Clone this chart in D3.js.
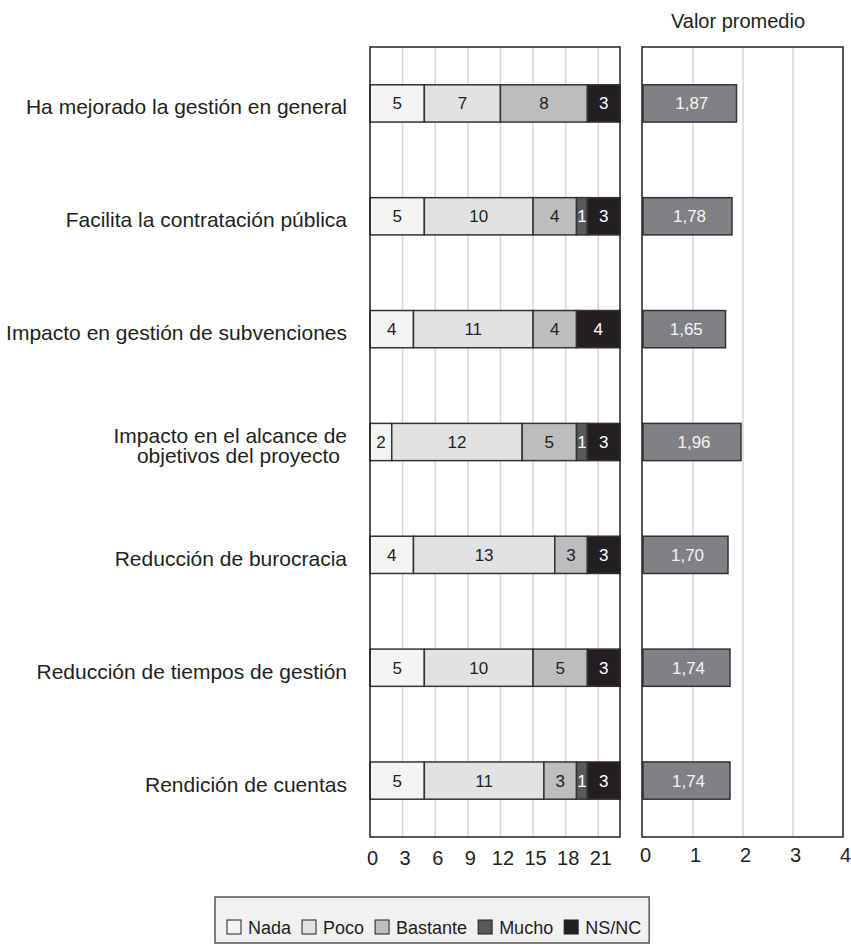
<!DOCTYPE html>
<html>
<head>
<meta charset="utf-8">
<script src="https://cdn.jsdelivr.net/npm/d3@7"></script>
<style>
  html, body { margin: 0; padding: 0; background: #ffffff; }
  svg { display: block; font-family: "Liberation Sans", Arial, Helvetica, sans-serif; }
</style>
</head>
<body>
<svg id="chart" width="851" height="947"></svg>
<script>
// Survey items (row labels; "\n" splits a label over two lines)
const categories = [
  "Ha mejorado la gestión en general",
  "Facilita la contratación pública",
  "Impacto en gestión de subvenciones",
  "Impacto en el alcance de\nobjetivos del proyecto",
  "Reducción de burocracia",
  "Reducción de tiempos de gestión",
  "Rendición de cuentas"
];

// Answer levels, stacked left to right
const levels = ["Nada", "Poco", "Bastante", "Mucho", "NS/NC"];

// Number of answers per level, one array per level, in row order
const nada     = [5, 5, 4, 2, 4, 5, 5];
const poco     = [7, 10, 11, 12, 13, 10, 11];
const bastante = [8, 4, 4, 5, 3, 5, 3];
const mucho    = [0, 1, 0, 1, 0, 0, 1];
const nsnc     = [3, 3, 4, 3, 3, 3, 3];

// Average score per item
const promedio = [1.87, 1.78, 1.65, 1.96, 1.70, 1.74, 1.74];

// Tick labels
const countTicks = [0, 3, 6, 9, 12, 15, 18, 21];
const meanTicks = [0, 1, 2, 3, 4];

const palette = {
  "Nada": "#f4f4f4",
  "Poco": "#e1e2e4",
  "Bastante": "#bcbdbf",
  "Mucho": "#58595b",
  "NS/NC": "#231f20"
};
const labelInk = {
  "Nada": "#231f20",
  "Poco": "#231f20",
  "Bastante": "#231f20",
  "Mucho": "#ffffff",
  "NS/NC": "#ffffff"
};
const ink = "#231f20";
const gridColor = "#d6d6d6";
const meanFill = "#808184";

const rows = categories.map((c, i) => ({
  cat: c, "Nada": nada[i], "Poco": poco[i], "Bastante": bastante[i],
  "Mucho": mucho[i], "NS/NC": nsnc[i], mean: promedio[i]
}));

const svg = d3.select("#chart");

const plotTop = 47, plotBottom = 837;
const y = d3.scaleBand().domain(categories).range([plotTop, plotBottom])
  .paddingInner(0.67).paddingOuter(0.335);

const xCount = d3.scaleLinear().domain([0, 23]).range([370, 620]);
const xMean = d3.scaleLinear().domain([0, 4]).range([643, 843]);

const comma = d3.formatLocale({ decimal: ",", thousands: ".", grouping: [3], currency: ["", "€"] }).format(".2f");

// ---------- Left panel: stacked counts ----------
const left = svg.append("g");

left.selectAll("line.grid").data(countTicks.filter(t => t > 0)).join("line")
  .attr("class", "grid")
  .attr("x1", d => xCount(d)).attr("x2", d => xCount(d))
  .attr("y1", plotTop).attr("y2", plotBottom)
  .attr("stroke", gridColor).attr("stroke-width", 1.5);

const stacked = d3.stack().keys(levels)(rows);

const layer = left.selectAll("g.layer").data(stacked).join("g").attr("class", "layer");

layer.selectAll("rect").data(s => s.map(d => ({ key: s.key, d })).filter(o => o.d[1] > o.d[0]))
  .join("rect")
  .attr("x", o => xCount(o.d[0]))
  .attr("width", o => xCount(o.d[1]) - xCount(o.d[0]))
  .attr("y", o => y(o.d.data.cat))
  .attr("height", y.bandwidth())
  .attr("fill", o => palette[o.key])
  .attr("stroke", "#333333").attr("stroke-width", 1.5);

layer.selectAll("text").data(s => s.map(d => ({ key: s.key, d })).filter(o => o.d[1] > o.d[0]))
  .join("text")
  .attr("x", o => (xCount(o.d[0]) + xCount(o.d[1])) / 2)
  .attr("y", o => y(o.d.data.cat) + y.bandwidth() / 2 + 6)
  .attr("text-anchor", "middle")
  .attr("font-size", 17)
  .attr("fill", o => labelInk[o.key])
  .text(o => o.d[1] - o.d[0]);

left.append("rect")
  .attr("x", xCount.range()[0]).attr("y", plotTop)
  .attr("width", xCount.range()[1] - xCount.range()[0]).attr("height", plotBottom - plotTop)
  .attr("fill", "none").attr("stroke", ink).attr("stroke-width", 1.5);

const axL = left.append("g").attr("transform", `translate(2,${plotBottom})`)
  .call(d3.axisBottom(xCount).tickValues(countTicks).tickSize(0).tickPadding(14).tickFormat(d3.format("d")));
axL.select(".domain").remove();
axL.selectAll("text").attr("font-size", 20).attr("fill", ink);
axL.attr("font-family", null);

// Row labels
const rowLabels = svg.append("g").attr("font-size", 21).attr("fill", ink).attr("text-anchor", "end");
rowLabels.selectAll("text").data(categories).join("text")
  .each(function (c) {
    const lines = c.split("\n");
    const cy = y(c) + y.bandwidth() / 2;
    const t = d3.select(this).attr("x", 347);
    if (lines.length === 1) {
      t.attr("y", cy + 11).text(c);
    } else {
      t.attr("y", cy + 1);
      t.selectAll("tspan").data(lines).join("tspan")
        .attr("x", 347).attr("dx", (d, i) => i === 0 ? 0 : -7)
        .attr("dy", (d, i) => i === 0 ? 0 : 20)
        .text(d => d);
    }
  });

// ---------- Right panel: average score ----------
const right = svg.append("g");

right.selectAll("line.grid").data(meanTicks.filter(t => t > 0 && t < 4)).join("line")
  .attr("class", "grid")
  .attr("x1", d => xMean(d)).attr("x2", d => xMean(d))
  .attr("y1", plotTop).attr("y2", plotBottom)
  .attr("stroke", gridColor).attr("stroke-width", 1.5);

right.selectAll("rect.mean").data(rows).join("rect")
  .attr("class", "mean")
  .attr("x", xMean(0))
  .attr("width", d => xMean(d.mean) - xMean(0))
  .attr("y", d => y(d.cat))
  .attr("height", y.bandwidth())
  .attr("fill", meanFill).attr("stroke", "#333333").attr("stroke-width", 1.5);

right.selectAll("text.mean").data(rows).join("text")
  .attr("class", "mean")
  .attr("x", d => (xMean(0) + xMean(d.mean)) / 2 + 2)
  .attr("y", d => y(d.cat) + y.bandwidth() / 2 + 6)
  .attr("text-anchor", "middle")
  .attr("font-size", 17)
  .attr("fill", "#f4f4f4")
  .text(d => comma(d.mean));

right.append("rect")
  .attr("x", 642).attr("y", plotTop)
  .attr("width", xMean.range()[1] - 642).attr("height", plotBottom - plotTop)
  .attr("fill", "none").attr("stroke", ink).attr("stroke-width", 1.5);

const axR = right.append("g").attr("transform", `translate(2,${plotBottom})`)
  .call(d3.axisBottom(xMean).tickValues(meanTicks).tickSize(0).tickPadding(11).tickFormat(d3.format("d")));
axR.select(".domain").remove();
axR.selectAll("text").attr("font-size", 20).attr("fill", ink);
axR.attr("font-family", null);

svg.append("text")
  .attr("x", 738).attr("y", 28)
  .attr("text-anchor", "middle")
  .attr("font-size", 20).attr("fill", ink)
  .text("Valor promedio");

// ---------- Legend ----------
const legend = svg.append("g");
const legendBox = legend.append("rect")
  .attr("x", 215).attr("y", 897).attr("height", 46)
  .attr("fill", "#f1f1f2").attr("stroke", "#555555").attr("stroke-width", 1.5);

let lx = 227;
const base = 934;
levels.forEach((k, i) => {
  legend.append("rect")
    .attr("x", lx).attr("y", base - 14).attr("width", 14).attr("height", 14)
    .attr("fill", palette[k]).attr("stroke", ink).attr("stroke-width", 1);
  lx += 14 + 7;
  const t = legend.append("text")
    .attr("x", lx).attr("y", base)
    .attr("font-size", 18).attr("fill", ink)
    .text(k);
  lx += t.node().getComputedTextLength() + (i < levels.length - 1 ? 11 : 0);
});
legendBox.attr("width", lx + 8 - 215);
</script>
</body>
</html>
